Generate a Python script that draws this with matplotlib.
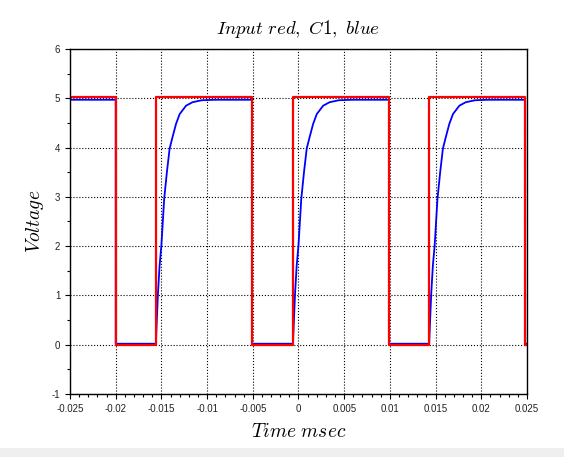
import numpy as np
import matplotlib.pyplot as plt
from matplotlib.patches import Rectangle
from matplotlib.ticker import MultipleLocator, FuncFormatter

plt.rcParams.update({
    "font.family": ["Liberation Sans", "DejaVu Sans"],
    "mathtext.fontset": "cm",
    "axes.unicode_minus": False,
})

# edge times of the input square wave (seconds)
fall_times = [-0.0200, -0.0051, 0.0099, 0.0248]
rise_times = [-0.0156, -0.0006, 0.0143]
t_start, t_end = -0.025, 0.025

input_high = 5.02
input_low = 0.0
c1_high = 4.97
c1_low = 0.02

# C1 charging curve after each rising edge
rise_dt = [0.0, 0.00005, 0.0001, 0.00022, 0.0004, 0.0006, 0.0009, 0.0012,
           0.0015, 0.0018, 0.0022, 0.0026, 0.0033, 0.004, 0.005, 0.0065]
rise_v = [0.03, 0.27, 0.5, 1.03, 1.6, 2.02, 2.95, 3.5,
          3.98, 4.2, 4.48, 4.68, 4.85, 4.92, 4.96, 4.97]


def build_input():
    t = [t_start]
    v = [input_high]
    for i, tf in enumerate(fall_times):
        t += [tf, tf]
        v += [input_high, input_low]
        if i < len(rise_times):
            tr = rise_times[i]
            t += [tr, tr]
            v += [input_low, input_high]
    t.append(t_end)
    v.append(input_low)
    return np.array(t), np.array(v)


def build_c1():
    t = [t_start]
    v = [c1_high]
    for i, tf in enumerate(fall_times):
        t += [tf, tf]
        v += [v[-1], c1_low]
        if i < len(rise_times):
            tr = rise_times[i]
            nxt = fall_times[i + 1]
            t.append(tr)
            v.append(c1_low)
            for dt, val in zip(rise_dt, rise_v):
                if tr + dt < nxt:
                    t.append(tr + dt)
                    v.append(val)
    t.append(t_end)
    v.append(c1_low)
    return np.array(t), np.array(v)


def tick_fmt(x, _):
    return f"{round(x, 4) + 0.0:g}"


def main():
    fig = plt.figure(figsize=(5.64, 4.57), dpi=100)
    fig.patches.append(Rectangle((0, 0), 1, 9 / 457, transform=fig.transFigure,
                                 facecolor="#efefef", edgecolor="none"))
    ax = fig.add_axes([70 / 564, 1 - 394 / 457, 457 / 564, 345 / 457])

    tc, vc = build_c1()
    ti, vi = build_input()
    ax.plot(tc, vc, color="blue", lw=1.3)
    ax.plot(ti, vi, color="red", lw=1.6)

    ax.set_xlim(t_start, t_end)
    ax.set_ylim(-1, 6)
    ax.xaxis.set_major_locator(MultipleLocator(0.005))
    ax.xaxis.set_minor_locator(MultipleLocator(0.001))
    ax.yaxis.set_major_locator(MultipleLocator(1))
    ax.yaxis.set_minor_locator(MultipleLocator(0.5))
    ax.xaxis.set_major_formatter(FuncFormatter(tick_fmt))
    ax.tick_params(which="both", direction="out", labelsize=7,
                   labelcolor="#222222", width=0.8)
    ax.tick_params(which="major", length=3.5)
    ax.tick_params(which="minor", length=2.2)
    ax.grid(True, which="major", color="black", linestyle=":", linewidth=0.8)
    for s in ax.spines.values():
        s.set_linewidth(1.0)

    ax.set_title(r"$Input\ red,\ C1,\ blue$", fontsize=13.5, pad=11)
    ax.set_xlabel(r"$Time\ msec$", fontsize=14, labelpad=7)
    ax.set_ylabel(r"$Voltage$", fontsize=14, labelpad=4)

    fig.savefig("out.png", dpi=100)
    plt.close(fig)


if __name__ == "__main__":
    main()
